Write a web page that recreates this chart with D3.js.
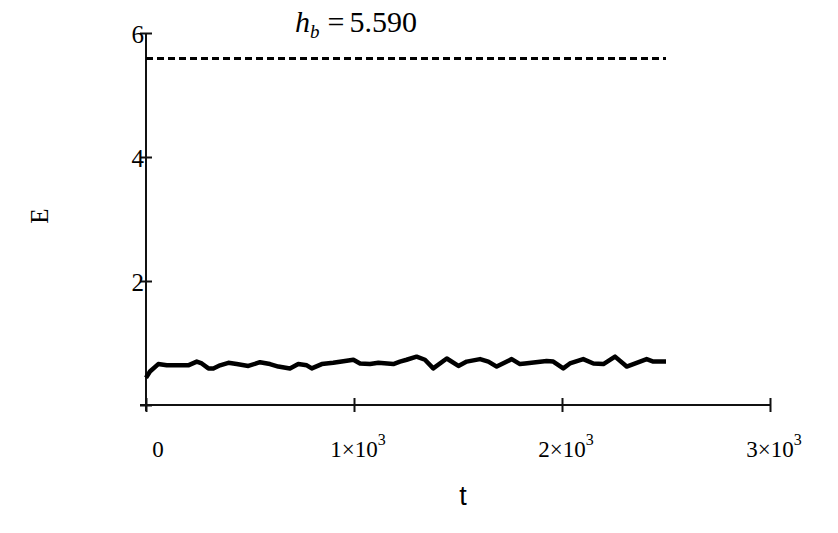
<!DOCTYPE html>
<html>
<head>
<meta charset="utf-8">
<script src="https://cdn.jsdelivr.net/npm/d3@7"></script>
<style>
body { margin: 0; background: #fff; }
svg { display: block; background: #fff; }
.serif { font-family: "Liberation Serif", "Times New Roman", serif; fill: #000; }
</style>
</head>
<body>
<svg id="chart"></svg>
<script>
const WIDTH = 838;
const HEIGHT = 533;

// E(t)
const tValues = [0, 19, 59, 100, 203, 244, 268, 300, 324, 356, 396, 436, 492, 548, 596, 636,
    692, 732, 773, 797, 845, 900, 957, 997, 1029, 1077, 1117, 1189, 1221, 1253, 1301, 1341,
    1381, 1446, 1502, 1542, 1606, 1646, 1686, 1758, 1798, 1822, 1926, 1958, 2006, 2038, 2102,
    2151, 2199, 2255, 2311, 2359, 2407, 2439, 2500];
const eValues = [0.44, 0.54, 0.66, 0.64, 0.64, 0.70, 0.67, 0.59, 0.59, 0.64, 0.68, 0.66, 0.63,
    0.69, 0.66, 0.62, 0.59, 0.66, 0.64, 0.59, 0.66, 0.68, 0.71, 0.73, 0.67, 0.66, 0.68, 0.66,
    0.70, 0.73, 0.78, 0.73, 0.59, 0.75, 0.63, 0.70, 0.74, 0.70, 0.62, 0.74, 0.66, 0.67, 0.71,
    0.70, 0.59, 0.67, 0.74, 0.67, 0.66, 0.78, 0.62, 0.68, 0.74, 0.70, 0.70];

// horizontal level h_b, drawn over the same time span
const hb = 5.590;
const hbSpan = [0, 2500];

const xTicks = [0, 1000, 2000, 3000];
const xTickMantissa = ['0', '1', '2', '3'];
const yTicks = [2, 4, 6];

function init() {
    const svg = d3.select('#chart')
        .attr('width', WIDTH)
        .attr('height', HEIGHT);

    const x = d3.scaleLinear().domain([0, 3000]).range([146, 770]);
    const y = d3.scaleLinear().domain([0, 6]).range([405, 33]);

    // x axis (ticks cross the line, Mathcad style)
    const xAxis = svg.append('g')
        .attr('transform', `translate(0,${y(0)})`)
        .call(d3.axisBottom(x).tickValues(xTicks).tickSize(6).tickFormat(''));
    xAxis.select('.domain').attr('d', `M${x(0) - 6},0H${x(3000)}`)
        .attr('stroke', '#111').attr('stroke-width', 2);
    xAxis.selectAll('.tick line').attr('y1', -7).attr('y2', 7)
        .attr('stroke', '#111').attr('stroke-width', 2);

    // y axis
    const yAxis = svg.append('g')
        .attr('transform', `translate(${x(0)},0)`)
        .call(d3.axisLeft(y).tickValues([0].concat(yTicks)).tickSize(6).tickFormat(''));
    yAxis.select('.domain').attr('d', `M0,${y(6)}V${y(0) + 6}`)
        .attr('stroke', '#111').attr('stroke-width', 2);
    yAxis.selectAll('.tick line').attr('x1', -6).attr('x2', 6)
        .attr('stroke', '#111').attr('stroke-width', 2);

    // y tick labels
    svg.selectAll('.ylab')
        .data(yTicks)
        .enter().append('text')
        .attr('class', 'ylab serif')
        .attr('x', x(0) - 2)
        .attr('y', d => y(d) + 10)
        .attr('text-anchor', 'end')
        .attr('font-size', 25)
        .text(d => d);

    // x tick labels: 0, 1x10^3 ...
    const xl = svg.selectAll('.xlab')
        .data(xTicks)
        .enter().append('text')
        .attr('class', 'xlab serif')
        .attr('x', d => x(d) + (d === 0 ? 12 : 4))
        .attr('y', 457)
        .attr('text-anchor', 'middle')
        .attr('font-size', 23);
    xl.append('tspan').text((d, i) => d === 0 ? '0' : xTickMantissa[i] + '\u00d710');
    xl.filter(d => d !== 0).append('tspan')
        .attr('dy', -12).attr('font-size', 16).text('3');

    // dashed h_b level
    svg.append('line')
        .attr('x1', x(hbSpan[0])).attr('x2', x(hbSpan[1]))
        .attr('y1', y(hb)).attr('y2', y(hb))
        .attr('stroke', '#000').attr('stroke-width', 3)
        .attr('stroke-dasharray', '7,4');

    // E(t)
    const data = tValues.map((t, i) => ({ t: t, e: eValues[i] }));
    const line = d3.line().x(d => x(d.t)).y(d => y(d.e));
    svg.append('path')
        .datum(data)
        .attr('d', line)
        .attr('fill', 'none')
        .attr('stroke', '#000')
        .attr('stroke-width', 4.5)
        .attr('stroke-linejoin', 'round');

    // title h_b = 5.590
    const title = svg.append('text')
        .attr('class', 'serif')
        .attr('x', 295)
        .attr('y', 32)
        .attr('font-size', 30);
    title.append('tspan').attr('font-style', 'italic').text('h');
    title.append('tspan').attr('font-style', 'italic').attr('font-size', 19)
        .attr('dy', 6).text('b');
    title.append('tspan').attr('dy', -6).attr('dx', 8).text('=');
    title.append('tspan').attr('dx', 5).text(hb.toFixed(3));

    // axis titles
    svg.append('text')
        .attr('class', 'serif')
        .attr('transform', 'translate(48,216) rotate(-90)')
        .attr('text-anchor', 'middle')
        .attr('font-size', 25)
        .text('E');

    svg.append('text')
        .attr('x', 463)
        .attr('y', 505)
        .attr('text-anchor', 'middle')
        .attr('font-family', 'Liberation Sans, Arial, sans-serif')
        .attr('font-size', 27)
        .text('t');
}

init();
</script>
</body>
</html>
